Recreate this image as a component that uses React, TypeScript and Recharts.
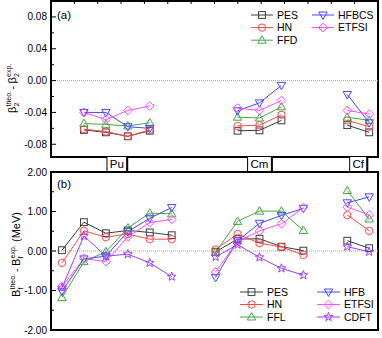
import React from "react";
import { LineChart, Line, XAxis, YAxis, ReferenceLine, ReferenceArea } from "recharts";

// slot positions along x; nulls break the lines between nuclei groups
const slots = [0, 1, 2, 3, 4, 5, 6, 7, 8, 9, 10, 11, 12, 13, 14];
const groupNames = ["Pu", "Cm", "Cf"];
const groupCenters = [2.5, 9, 13.5];

// (a) beta2 deviations
const betaPES = [null, -0.062, -0.065, -0.07, -0.063, null, null, null, -0.063, -0.0625, -0.05, null, null, -0.056, -0.065];
const betaHN = [null, -0.061, -0.064, -0.07, -0.062, null, null, null, -0.057, -0.056, -0.043, null, null, -0.05, -0.058];
const betaFFD = [null, -0.054, -0.055, -0.057, -0.053, null, null, null, -0.046, -0.047, -0.033, null, null, -0.046, -0.05];
const betaHFBCS = [null, -0.04, -0.04, -0.058, -0.06, null, null, null, -0.038, -0.028, -0.006, null, null, -0.0175, -0.053];
const betaETFSI = [null, -0.04, -0.049, -0.0375, -0.032, null, null, null, -0.0346, -0.0375, -0.025, null, null, -0.0375, -0.042];

// (b) fission barrier deviations (MeV)
const barPES = [0.02, 0.73, 0.45, 0.52, 0.47, 0.4, null, -0.02, 0.3, 0.31, 0.11, 0.01, null, 0.26, 0.07];
const barHN = [-0.3, 0.51, 0.35, 0.43, 0.3, 0.3, null, 0.04, 0.43, 0.2, 0.1, -0.1, null, 0.91, 0.51];
const barFFL = [-1.18, -0.27, -0.02, 0.58, 0.96, 0.94, null, -0.03, 0.75, 1.01, 1.01, 0.52, null, 1.53, 0.81];
const barHFB = [-1.02, -0.2, -0.13, 0.49, 0.83, 1.1, null, -0.67, 0.26, 0.7, 0.9, 1.08, null, 1.22, 1.37];
const barETFSI = [-0.9, -0.19, -0.27, 0.36, 0.72, 0.8, null, -0.53, 0.24, 0.51, 0.69, 1.1, null, 1.11, 0.91];
const barCDFT = [-0.93, 0.38, -0.13, -0.08, -0.3, -0.65, null, -0.15, 0.16, -0.16, -0.44, -0.61, null, 0.11, -0.02];

const betaTicks = [-0.08, -0.06, -0.04, -0.02, 0, 0.02, 0.04, 0.06, 0.08];
const barTicks = [-2, -1.5, -1, -0.5, 0, 0.5, 1, 1.5, 2];

const X_DOMAIN: [number, number] = [-0.5, 14.4];
const BETA_DOMAIN: [number, number] = [-0.096, 0.1];
const BAR_DOMAIN: [number, number] = [-2, 2];
const FONT = "'Liberation Sans', Arial, sans-serif";

type Shape = "square" | "circle" | "up" | "down" | "diamond" | "star";
type Series = { key: string; color: string; shape: Shape; values: (number | null)[] };

const C = {
  black: "#3c3c3c",
  red: "#ff4a4a",
  green: "#43a843",
  blue: "#4646ff",
  magenta: "#ff4dff",
  purple: "#9a40ff",
};

const betaSeries: Series[] = [
  { key: "PES", color: C.black, shape: "square", values: betaPES },
  { key: "HN", color: C.red, shape: "circle", values: betaHN },
  { key: "FFD", color: C.green, shape: "up", values: betaFFD },
  { key: "HFBCS", color: C.blue, shape: "down", values: betaHFBCS },
  { key: "ETFSI", color: C.magenta, shape: "diamond", values: betaETFSI },
];

const barSeries: Series[] = [
  { key: "PES", color: C.black, shape: "square", values: barPES },
  { key: "HN", color: C.red, shape: "circle", values: barHN },
  { key: "FFL", color: C.green, shape: "up", values: barFFL },
  { key: "HFB", color: C.blue, shape: "down", values: barHFB },
  { key: "ETFSI", color: C.magenta, shape: "diamond", values: barETFSI },
  { key: "CDFT", color: C.purple, shape: "star", values: barCDFT },
];

const toRows = (series: Series[]) =>
  slots.map((x, i) => {
    const row: Record<string, number | null> = { x };
    series.forEach((s) => (row[s.key] = s.values[i]));
    return row;
  });

function Marker({ cx, cy, shape, color }: { cx: number; cy: number; shape: Shape; color: string }) {
  const p = { fill: "none", stroke: color, strokeWidth: 1 };
  const h = 3.4;
  switch (shape) {
    case "square":
      return <rect x={cx - h} y={cy - h} width={2 * h} height={2 * h} {...p} />;
    case "circle":
      return <circle cx={cx} cy={cy} r={3.7} {...p} />;
    case "up":
      return <polygon points={`${cx},${cy - 4.4} ${cx - 4.2},${cy + 3} ${cx + 4.2},${cy + 3}`} {...p} />;
    case "down":
      return <polygon points={`${cx},${cy + 4.4} ${cx - 4.2},${cy - 3} ${cx + 4.2},${cy - 3}`} {...p} />;
    case "diamond":
      return <polygon points={`${cx},${cy - 4.4} ${cx + 4.4},${cy} ${cx},${cy + 4.4} ${cx - 4.4},${cy}`} {...p} />;
    default: {
      const pts: string[] = [];
      for (let k = 0; k < 10; k++) {
        const r = k % 2 === 0 ? 4.6 : 1.9;
        const a = -Math.PI / 2 + (k * Math.PI) / 5;
        pts.push(`${cx + r * Math.cos(a)},${cy + r * Math.sin(a)}`);
      }
      return <polygon points={pts.join(" ")} {...p} />;
    }
  }
}

const isMajor = (v: number, step: number) => Math.abs(v / step - Math.round(v / step)) < 1e-6;

const leftTick = (step: number) => (t: any) => {
  const v = t.payload.value as number;
  const major = isMajor(v, step);
  return (
    <g>
      <line x1={t.x} x2={t.x + (major ? 5 : 3)} y1={t.y} y2={t.y} stroke="#000" />
      {major && (
        <text x={t.x - 4} y={t.y} dy={3.5} textAnchor="end" fontSize={10} fontFamily={FONT} fill="#000">
          {v.toFixed(2)}
        </text>
      )}
    </g>
  );
};

const rightTick = (step: number) => (t: any) => {
  const major = isMajor(t.payload.value, step);
  return <line x1={t.x} x2={t.x - (major ? 5 : 3)} y1={t.y} y2={t.y} stroke="#000" />;
};

const topEdgeTick = (t: any) => <line x1={t.x} x2={t.x} y1={t.y} y2={t.y + 3} stroke="#000" />;

const groupTick = (t: any) => {
  const label = groupNames[t.index] ?? "";
  const adv: Record<string, number> = { P: 7.3, u: 6.1, C: 7.9, m: 9.2, f: 3.1 };
  const w = label.split("").reduce((s, ch) => s + (adv[ch] ?? 6.1), 0) * 1.1 + 5;
  const x0 = t.x - w / 2;
  const y0 = t.y - 0.5;
  return (
    <g>
      <rect x={x0 + 1.5} y={y0 + 1.5} width={w} height={15} fill="#000" />
      <rect x={x0} y={y0} width={w} height={15} fill="#fff" stroke="#000" strokeWidth={1} />
      <text x={t.x} y={y0 + 11.5} textAnchor="middle" fontSize={11.5} fontFamily={FONT} fill="#000">
        {label}
      </text>
    </g>
  );
};

function seriesLines(series: Series[]) {
  return series.map((s) => (
    <Line
      key={s.key}
      type="linear"
      dataKey={s.key}
      stroke={s.color}
      strokeWidth={1}
      isAnimationActive={false}
      activeDot={false}
      dot={(d: any) =>
        d.cx == null || d.cy == null || d.value == null ? (
          <g key={`${s.key}-${d.index}`} />
        ) : (
          <g key={`${s.key}-${d.index}`}>
            <Marker cx={d.cx} cy={d.cy} shape={s.shape} color={s.color} />
          </g>
        )
      }
    />
  ));
}

function LegendBlock({ series, left, top, colGap, rowGap, lineLen }: {
  series: Series[]; left: number; top: number; colGap: number; rowGap: number; lineLen: number;
}) {
  return (
    <g>
      {series.map((s, i) => {
        const x = left + Math.floor(i / 3) * colGap;
        const y = top + (i % 3) * rowGap;
        return (
          <g key={s.key}>
            <line x1={x} x2={x + lineLen} y1={y} y2={y} stroke={s.color} />
            <Marker cx={x + lineLen / 2} cy={y} shape={s.shape} color={s.color} />
            <text x={x + lineLen + 4} y={y + 3.6} fontSize={10.5} fontFamily={FONT} fill="#000">
              {s.key}
            </text>
          </g>
        );
      })}
    </g>
  );
}

function Titles() {
  const big = 11;
  const small = 7;
  return (
    <svg width={382} height={338} style={{ position: "absolute", left: 0, top: 0, pointerEvents: "none" }}>
      <text x={57} y={19} fontSize={11.5} fontFamily={FONT}>(a)</text>
      <text x={57} y={188} fontSize={11.5} fontFamily={FONT}>(b)</text>
      <g transform="translate(16,113) rotate(-90)" fontFamily={FONT} fill="#000">
        <text x={0} y={0} fontSize={big}>β</text>
        <text x={6.5} y={3} fontSize={small}>2</text>
        <text x={6.5} y={-5.5} fontSize={small}>theo.</text>
        <text x={23.5} y={0} fontSize={big}>-</text>
        <text x={29.5} y={0} fontSize={big}>β</text>
        <text x={36} y={3} fontSize={small}>2</text>
        <text x={36} y={-5.5} fontSize={small}>exp.</text>
      </g>
      <g transform="translate(20,297) rotate(-90)" fontFamily={FONT} fill="#000">
        <text x={0} y={0} fontSize={big}>B</text>
        <text x={7.5} y={3} fontSize={small}>f</text>
        <text x={7.5} y={-5.5} fontSize={small}>theo.</text>
        <text x={25} y={0} fontSize={big}>-</text>
        <text x={31} y={0} fontSize={big}>B</text>
        <text x={38.5} y={3} fontSize={small}>f</text>
        <text x={38.5} y={-5.5} fontSize={small}>exp.</text>
        <text x={55} y={0} fontSize={big}>(MeV)</text>
      </g>
      <LegendBlock series={betaSeries} left={251} top={15} colGap={61} rowGap={12.6} lineLen={22} />
      <LegendBlock series={barSeries} left={240} top={292} colGap={77} rowGap={12.5} lineLen={23} />
    </svg>
  );
}

export default function App() {
  const topRows = toRows(betaSeries);
  const bottomRows = toRows(barSeries);
  return (
    <div style={{ position: "absolute", left: 0, top: 0, width: 382, height: 338, background: "#fff", overflow: "hidden" }}>
      <div style={{ position: "absolute", left: 0, top: 164, zIndex: 1 }}>
        <LineChart width={382} height={174} data={bottomRows} margin={{ top: 8, right: 4, bottom: 8, left: 0 }}>
          <XAxis dataKey="x" type="number" domain={X_DOMAIN} hide allowDataOverflow />
          <YAxis
            type="number"
            domain={BAR_DOMAIN}
            ticks={barTicks}
            interval={0}
            width={51}
            axisLine={false}
            tickLine={false}
            tickSize={0}
            tickMargin={0}
            tick={leftTick(1)}
            allowDataOverflow
          />
          <YAxis
            yAxisId="r"
            orientation="right"
            mirror
            type="number"
            domain={BAR_DOMAIN}
            ticks={barTicks}
            interval={0}
            axisLine={false}
            tickLine={false}
            tickSize={0}
            tickMargin={0}
            tick={rightTick(1)}
          />
          <ReferenceLine y={0} stroke="#a0a0a0" strokeDasharray="1 1" />
          <ReferenceArea x1={X_DOMAIN[0]} x2={X_DOMAIN[1]} y1={BAR_DOMAIN[0]} y2={BAR_DOMAIN[1]} fill="none" stroke="#000" strokeWidth={2} />
          {seriesLines(barSeries)}
        </LineChart>
      </div>
      <div style={{ position: "absolute", left: 0, top: 0, zIndex: 2 }}>
        <LineChart width={382} height={176} data={topRows} margin={{ top: 1, right: 4, bottom: 0, left: 0 }}>
          <XAxis
            dataKey="x"
            type="number"
            domain={X_DOMAIN}
            ticks={groupCenters}
            interval={0}
            height={19}
            axisLine={false}
            tickLine={false}
            tickSize={0}
            tickMargin={0}
            tick={groupTick}
            allowDataOverflow
          />
          <XAxis
            xAxisId="t"
            orientation="top"
            mirror
            type="number"
            domain={X_DOMAIN}
            ticks={slots}
            interval={0}
            axisLine={false}
            tickLine={false}
            tickSize={0}
            tickMargin={0}
            tick={topEdgeTick}
          />
          <YAxis
            type="number"
            domain={BETA_DOMAIN}
            ticks={betaTicks}
            interval={0}
            width={51}
            axisLine={false}
            tickLine={false}
            tickSize={0}
            tickMargin={0}
            tick={leftTick(0.04)}
            allowDataOverflow
          />
          <YAxis
            yAxisId="r"
            orientation="right"
            mirror
            type="number"
            domain={BETA_DOMAIN}
            ticks={betaTicks}
            interval={0}
            axisLine={false}
            tickLine={false}
            tickSize={0}
            tickMargin={0}
            tick={rightTick(0.04)}
          />
          <ReferenceLine y={0} stroke="#a0a0a0" strokeDasharray="1 1" />
          <ReferenceArea x1={X_DOMAIN[0]} x2={X_DOMAIN[1]} y1={BETA_DOMAIN[0]} y2={BETA_DOMAIN[1]} fill="none" stroke="#000" strokeWidth={2} />
          {seriesLines(betaSeries)}
        </LineChart>
      </div>
      <div style={{ position: "absolute", left: 0, top: 0, zIndex: 3 }}>
        <Titles />
      </div>
    </div>
  );
}
